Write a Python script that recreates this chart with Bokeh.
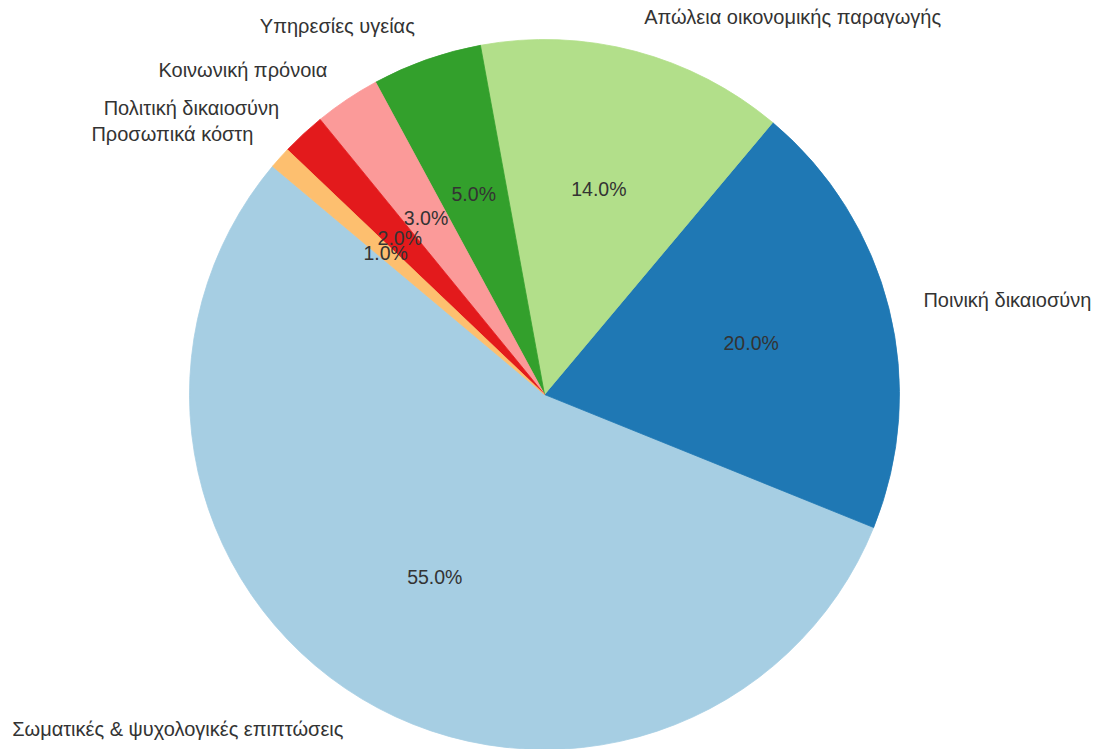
import math
from bokeh.plotting import figure
from bokeh.models import Range1d, ColumnDataSource
from bokeh.core.properties import value
from bokeh.embed import file_html
from bokeh.resources import INLINE

labels = ["Σωματικές & ψυχολογικές επιπτώσεις", "Ποινική δικαιοσύνη",
          "Απώλεια οικονομικής παραγωγής", "Υπηρεσίες υγείας",
          "Κοινωνική πρόνοια", "Πολιτική δικαιοσύνη", "Προσωπικά κόστη"]
values = [55, 20, 14, 5, 3, 2, 1]
colors = ["#a6cee3", "#1f78b4", "#b2df8a", "#33a02c", "#fb9a99", "#e31a1c", "#fdbf6f"]
start_deg = 140

W, H = 1097, 749
cx, cy = 544, 394
R = 355

total = sum(values)
starts, ends, mids = [], [], []
a = math.radians(start_deg)
for v in values:
    d = 2 * math.pi * v / total
    starts.append(a)
    ends.append(a + d)
    mids.append(a + d / 2)
    a += d

pct = [f"{100 * v / total:.1f}%" for v in values]
px = [0.6 * R * math.cos(m) for m in mids]
py = [0.6 * R * math.sin(m) for m in mids]
lx = [1.1 * R * math.cos(m) for m in mids]
ly = [1.1 * R * math.sin(m) for m in mids]
align = ["left" if x > 0 else "right" for x in lx]

src = ColumnDataSource(dict(start=starts, end=ends, color=colors, labels=labels,
                            pct=pct, px=px, py=py, lx=lx, ly=ly, align=align,
                            x0=[0] * len(values), y0=[0] * len(values)))

p = figure(width=W, height=H, output_backend="svg", toolbar_location=None,
           x_range=Range1d(-cx, W - cx), y_range=Range1d(-(H - cy), cy),
           min_border=0, outline_line_color=None)
p.axis.visible = False
p.grid.visible = False
p.background_fill_color = "white"

p.wedge(x="x0", y="y0", radius=R, start_angle="start", end_angle="end",
        fill_color="color", line_color="color", line_width=0.8, source=src)

p.text(x="px", y="py", text="pct", source=src, text_align="center",
       text_baseline="middle", text_font=value("Liberation Sans"),
       text_font_size="19.5px", text_color="#333333")
p.text(x="lx", y="ly", text="labels", source=src, text_align="align",
       text_baseline="middle", text_font=value("Liberation Sans"),
       text_font_size="20px", text_color="#333333")

open("out.html", "w").write(file_html(p, INLINE))
